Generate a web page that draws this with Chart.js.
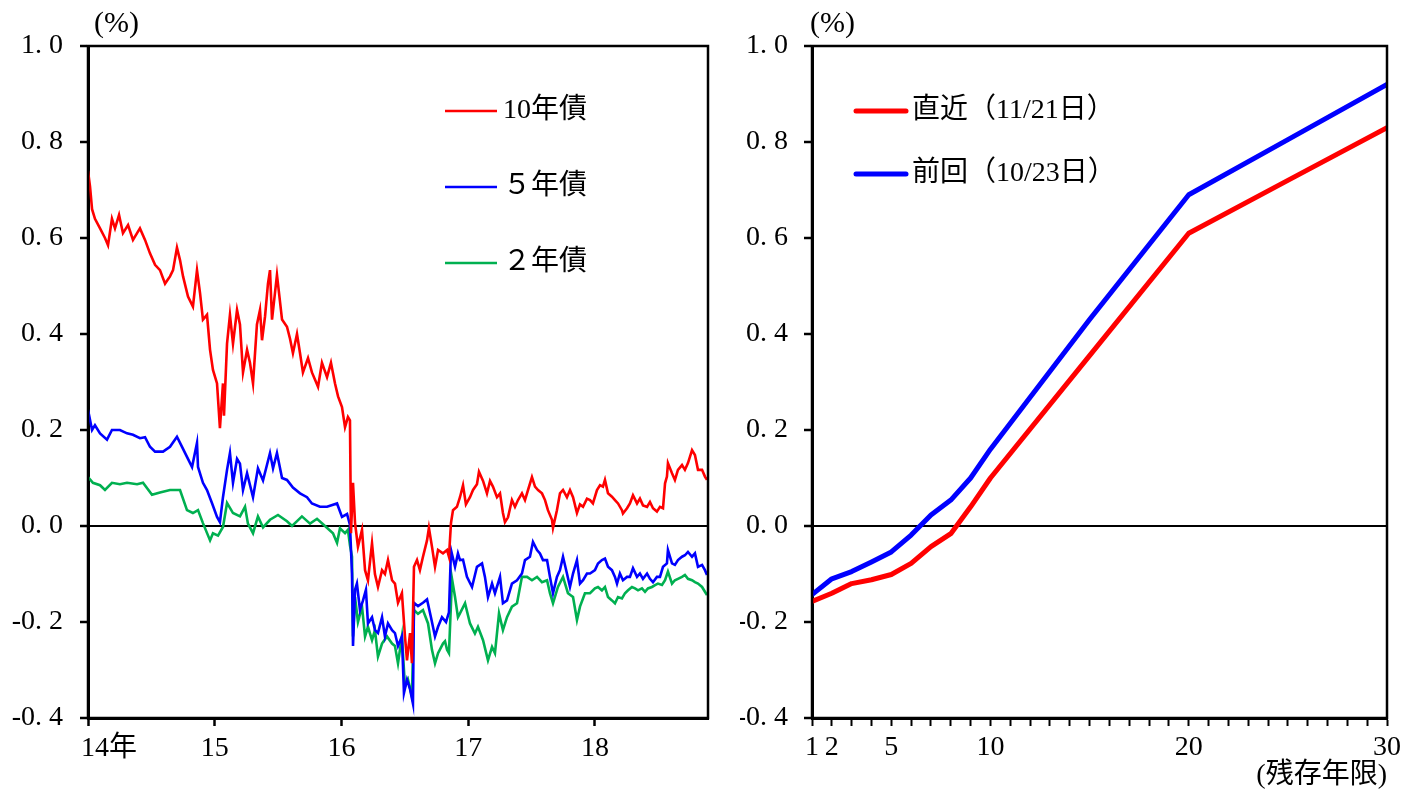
<!DOCTYPE html>
<html><head><meta charset="utf-8">
<script src="https://cdn.jsdelivr.net/npm/chart.js@4.4.0/dist/chart.umd.min.js"></script>
<style>
html,body{margin:0;padding:0;background:#fff;width:1419px;height:792px;overflow:hidden}
#left{position:absolute;left:0;top:0}
#right{position:absolute;left:740px;top:0}
</style></head>
<body>
<canvas id="left" width="740" height="792"></canvas>
<canvas id="right" width="679" height="792"></canvas>
<script>
// ---------- data: left panel (year, % yield) ----------
const seriesNamesLeft = ["10年債", "５年債", "２年債"];
const jgb10 = [[14.000,0.74],[14.016,0.707],[14.032,0.66],[14.055,0.64],[14.095,0.62],[14.134,0.60],[14.158,0.585],[14.189,0.64],[14.213,0.62],[14.245,0.648],[14.276,0.61],[14.316,0.627],[14.355,0.596],[14.387,0.61],[14.410,0.62],[14.450,0.596],[14.489,0.568],[14.529,0.544],[14.568,0.533],[14.608,0.505],[14.647,0.52],[14.671,0.533],[14.702,0.58],[14.726,0.554],[14.750,0.52],[14.789,0.478],[14.828,0.457],[14.860,0.533],[14.884,0.485],[14.907,0.43],[14.939,0.44],[14.963,0.367],[14.986,0.325],[15.018,0.297],[15.041,0.204],[15.065,0.297],[15.073,0.23],[15.097,0.38],[15.120,0.44],[15.144,0.38],[15.176,0.45],[15.199,0.42],[15.223,0.32],[15.255,0.367],[15.278,0.34],[15.302,0.297],[15.333,0.42],[15.357,0.45],[15.373,0.387],[15.397,0.437],[15.420,0.505],[15.436,0.533],[15.452,0.43],[15.491,0.523],[15.531,0.43],[15.570,0.415],[15.594,0.39],[15.617,0.36],[15.649,0.40],[15.673,0.36],[15.696,0.32],[15.736,0.35],[15.767,0.32],[15.815,0.29],[15.846,0.34],[15.886,0.31],[15.917,0.34],[15.949,0.297],[15.973,0.27],[16.004,0.248],[16.028,0.206],[16.051,0.227],[16.067,0.22],[16.075,-0.015],[16.091,0.09],[16.107,0.006],[16.130,-0.043],[16.162,-0.008],[16.186,-0.092],[16.209,-0.113],[16.241,-0.036],[16.264,-0.10],[16.288,-0.127],[16.320,-0.092],[16.343,-0.10],[16.367,-0.071],[16.399,-0.113],[16.422,-0.12],[16.446,-0.16],[16.477,-0.14],[16.501,-0.23],[16.517,-0.28],[16.541,-0.223],[16.556,-0.286],[16.572,-0.085],[16.596,-0.071],[16.619,-0.092],[16.643,-0.064],[16.675,-0.03],[16.690,-0.004],[16.714,-0.043],[16.738,-0.085],[16.762,-0.05],[16.801,-0.057],[16.833,-0.05],[16.848,-0.064],[16.864,0.006],[16.880,0.033],[16.911,0.04],[16.935,0.06],[16.959,0.085],[16.982,0.045],[17.014,0.06],[17.038,0.075],[17.069,0.087],[17.085,0.113],[17.117,0.094],[17.148,0.068],[17.172,0.094],[17.195,0.082],[17.227,0.06],[17.251,0.068],[17.274,0.027],[17.290,0.008],[17.314,0.018],[17.345,0.054],[17.369,0.04],[17.393,0.054],[17.424,0.068],[17.448,0.054],[17.472,0.075],[17.503,0.102],[17.527,0.082],[17.551,0.075],[17.582,0.068],[17.606,0.054],[17.629,0.033],[17.661,0.013],[17.669,-0.004],[17.700,0.033],[17.724,0.068],[17.748,0.075],[17.779,0.06],[17.803,0.075],[17.827,0.06],[17.858,0.027],[17.882,0.045],[17.906,0.04],[17.937,0.057],[17.961,0.054],[17.984,0.047],[18.016,0.075],[18.040,0.085],[18.063,0.082],[18.079,0.096],[18.103,0.068],[18.134,0.061],[18.158,0.054],[18.182,0.047],[18.213,0.033],[18.221,0.026],[18.253,0.037],[18.276,0.047],[18.300,0.064],[18.332,0.047],[18.355,0.057],[18.379,0.043],[18.411,0.04],[18.434,0.05],[18.458,0.037],[18.489,0.03],[18.513,0.04],[18.537,0.037],[18.553,0.089],[18.568,0.103],[18.576,0.131],[18.608,0.11],[18.631,0.096],[18.655,0.117],[18.687,0.127],[18.710,0.117],[18.734,0.131],[18.766,0.158],[18.789,0.148],[18.813,0.117],[18.845,0.117],[18.868,0.103],[18.884,0.096]];
const jgb5 = [[14.000,0.242],[14.032,0.20],[14.055,0.21],[14.095,0.193],[14.150,0.18],[14.189,0.20],[14.252,0.20],[14.308,0.193],[14.355,0.19],[14.410,0.183],[14.450,0.185],[14.489,0.165],[14.529,0.155],[14.592,0.155],[14.647,0.165],[14.702,0.186],[14.742,0.165],[14.781,0.144],[14.821,0.123],[14.860,0.173],[14.868,0.123],[14.907,0.09],[14.939,0.075],[14.978,0.048],[15.018,0.019],[15.041,0.008],[15.065,0.06],[15.097,0.117],[15.120,0.152],[15.144,0.09],[15.176,0.14],[15.199,0.13],[15.223,0.075],[15.255,0.11],[15.302,0.06],[15.341,0.12],[15.381,0.095],[15.436,0.152],[15.460,0.12],[15.491,0.152],[15.531,0.10],[15.570,0.096],[15.617,0.08],[15.673,0.068],[15.728,0.06],[15.767,0.047],[15.830,0.04],[15.886,0.04],[15.965,0.047],[16.004,0.019],[16.044,0.025],[16.067,0.002],[16.083,-0.10],[16.091,-0.25],[16.107,-0.133],[16.122,-0.12],[16.146,-0.175],[16.170,-0.155],[16.193,-0.133],[16.209,-0.203],[16.241,-0.19],[16.264,-0.217],[16.288,-0.223],[16.320,-0.19],[16.343,-0.23],[16.367,-0.203],[16.399,-0.217],[16.422,-0.223],[16.446,-0.25],[16.477,-0.23],[16.493,-0.348],[16.517,-0.32],[16.541,-0.34],[16.564,-0.37],[16.572,-0.16],[16.604,-0.167],[16.643,-0.16],[16.675,-0.153],[16.706,-0.19],[16.738,-0.23],[16.762,-0.21],[16.793,-0.19],[16.825,-0.20],[16.848,-0.18],[16.864,-0.05],[16.896,-0.085],[16.919,-0.057],[16.935,-0.071],[16.959,-0.07],[16.990,-0.106],[17.030,-0.127],[17.069,-0.085],[17.109,-0.078],[17.132,-0.106],[17.156,-0.148],[17.188,-0.12],[17.211,-0.14],[17.251,-0.106],[17.274,-0.161],[17.306,-0.155],[17.345,-0.12],[17.385,-0.113],[17.424,-0.099],[17.448,-0.071],[17.487,-0.064],[17.511,-0.033],[17.543,-0.05],[17.566,-0.057],[17.590,-0.071],[17.622,-0.071],[17.645,-0.106],[17.669,-0.14],[17.700,-0.106],[17.724,-0.092],[17.748,-0.064],[17.779,-0.099],[17.803,-0.127],[17.827,-0.099],[17.858,-0.071],[17.882,-0.12],[17.906,-0.113],[17.937,-0.099],[17.961,-0.099],[18.000,-0.092],[18.024,-0.078],[18.055,-0.071],[18.079,-0.068],[18.103,-0.085],[18.134,-0.092],[18.158,-0.106],[18.174,-0.12],[18.197,-0.099],[18.221,-0.113],[18.253,-0.106],[18.276,-0.106],[18.300,-0.088],[18.332,-0.106],[18.355,-0.099],[18.379,-0.11],[18.411,-0.099],[18.434,-0.11],[18.458,-0.117],[18.489,-0.106],[18.513,-0.106],[18.537,-0.085],[18.568,-0.078],[18.576,-0.05],[18.608,-0.078],[18.631,-0.081],[18.655,-0.071],[18.687,-0.064],[18.710,-0.061],[18.734,-0.054],[18.766,-0.064],[18.789,-0.057],[18.813,-0.085],[18.845,-0.081],[18.868,-0.092],[18.884,-0.102]];
const jgb2 = [[14.000,0.102],[14.039,0.09],[14.095,0.085],[14.134,0.075],[14.189,0.09],[14.252,0.087],[14.308,0.09],[14.387,0.087],[14.434,0.09],[14.505,0.065],[14.568,0.07],[14.647,0.075],[14.726,0.075],[14.781,0.033],[14.828,0.027],[14.868,0.033],[14.907,0.006],[14.963,-0.03],[14.986,-0.015],[15.026,-0.02],[15.065,-0.002],[15.097,0.048],[15.144,0.027],[15.199,0.02],[15.239,0.04],[15.262,0.005],[15.302,-0.015],[15.341,0.02],[15.381,-0.003],[15.436,0.013],[15.499,0.023],[15.570,0.01],[15.610,0.0],[15.688,0.02],[15.752,0.005],[15.807,0.015],[15.870,0.0],[15.933,-0.015],[15.965,-0.035],[15.988,-0.005],[16.028,-0.015],[16.051,-0.008],[16.067,-0.04],[16.083,-0.064],[16.091,-0.23],[16.107,-0.148],[16.130,-0.20],[16.162,-0.168],[16.186,-0.23],[16.209,-0.21],[16.241,-0.238],[16.264,-0.217],[16.288,-0.272],[16.320,-0.245],[16.359,-0.23],[16.399,-0.245],[16.422,-0.25],[16.446,-0.286],[16.477,-0.23],[16.501,-0.335],[16.525,-0.32],[16.556,-0.355],[16.572,-0.175],[16.604,-0.183],[16.643,-0.175],[16.683,-0.203],[16.714,-0.258],[16.738,-0.286],[16.762,-0.265],[16.801,-0.245],[16.817,-0.24],[16.833,-0.258],[16.848,-0.265],[16.872,-0.11],[16.896,-0.148],[16.919,-0.19],[16.935,-0.182],[16.975,-0.161],[17.014,-0.203],[17.053,-0.224],[17.077,-0.21],[17.117,-0.238],[17.156,-0.28],[17.188,-0.252],[17.211,-0.265],[17.243,-0.182],[17.274,-0.217],[17.306,-0.19],[17.345,-0.168],[17.385,-0.161],[17.424,-0.106],[17.464,-0.106],[17.503,-0.113],[17.543,-0.106],[17.582,-0.117],[17.622,-0.113],[17.645,-0.14],[17.669,-0.161],[17.708,-0.127],[17.748,-0.106],[17.787,-0.14],[17.827,-0.148],[17.858,-0.196],[17.882,-0.168],[17.921,-0.14],[17.961,-0.14],[18.000,-0.13],[18.024,-0.127],[18.055,-0.134],[18.079,-0.127],[18.103,-0.148],[18.134,-0.155],[18.158,-0.161],[18.182,-0.148],[18.213,-0.151],[18.237,-0.14],[18.261,-0.134],[18.292,-0.127],[18.316,-0.13],[18.340,-0.134],[18.371,-0.13],[18.395,-0.137],[18.418,-0.13],[18.450,-0.127],[18.474,-0.123],[18.497,-0.12],[18.529,-0.123],[18.553,-0.113],[18.576,-0.095],[18.608,-0.12],[18.631,-0.113],[18.655,-0.11],[18.687,-0.106],[18.710,-0.102],[18.734,-0.11],[18.766,-0.113],[18.789,-0.117],[18.813,-0.12],[18.845,-0.127],[18.868,-0.137],[18.884,-0.144]];
const leftYearTicks = [14, 15, 16, 17, 18];
const leftXMin = 14, leftXMax = 18.892;

// ---------- data: right panel (yield curve) ----------
const seriesNamesRight = ["直近（11/21日）", "前回（10/23日）"];
const maturities = [1, 2, 3, 4, 5, 6, 7, 8, 9, 10, 15, 20, 25, 30];
const curveLatest = [-0.157, -0.14, -0.12, -0.112, -0.101, -0.078, -0.043, -0.016, 0.04, 0.10, 0.355, 0.61, 0.72, 0.83];
const curvePrev   = [-0.143, -0.11, -0.095, -0.075, -0.054, -0.019, 0.023, 0.054, 0.10, 0.16, 0.43, 0.69, 0.805, 0.92];
const rightXLabelTicks = [1, 2, 5, 10, 20, 30];
const rightXMin = 1, rightXMax = 30;

// ---------- shared y ticks ----------
const yTicks = [-0.4, -0.2, 0.0, 0.2, 0.4, 0.6, 0.8, 1.0];
const yMin = -0.4, yMax = 1.0;

const FONT = "'Liberation Serif','Noto Sans CJK JP',serif";
const FS = 28;
const RED = '#ff0000', BLUE = '#0000ff', GREEN = '#00b050';

const fmtY = v => (v < 0 ? '-' : '') + Math.abs(v).toFixed(1).replace('.', '. ');

const framePlugin = {
  id: 'frame',
  afterDraw(chart) {
    const {ctx, chartArea: a} = chart;
    ctx.save();
    ctx.strokeStyle = '#000'; ctx.lineWidth = 2.5;
    ctx.strokeRect(a.left, a.top, a.right - a.left, a.bottom - a.top);
    ctx.restore();
  }
};
const unitPlugin = {
  id: 'unitLabel',
  afterDraw(chart, args, opts) {
    const {ctx} = chart;
    ctx.save();
    ctx.font = '30px ' + FONT; ctx.fillStyle = '#000';
    ctx.textBaseline = 'middle'; ctx.textAlign = 'left';
    ctx.fillText(opts.text, opts.x, opts.y);
    ctx.restore();
  }
};
const legendPlugin = {
  id: 'lineLegend',
  afterDraw(chart, args, opts) {
    const {ctx} = chart;
    ctx.save();
    ctx.font = FS + 'px ' + FONT; ctx.textBaseline = 'middle'; ctx.textAlign = 'left';
    chart.data.datasets.forEach((ds, i) => {
      const y = opts.y0 + i * opts.dy;
      ctx.strokeStyle = ds.borderColor; ctx.lineWidth = opts.lineWidth; ctx.lineCap = opts.cap;
      ctx.beginPath(); ctx.moveTo(opts.x, y); ctx.lineTo(opts.x + opts.len, y); ctx.stroke();
      ctx.fillStyle = '#000';
      ctx.fillText(ds.label, opts.x + opts.len + opts.gap, y);
    });
    ctx.restore();
  }
};

function yScale(width, pad) {
  return {
    type: 'linear', position: 'left', min: yMin, max: yMax,
    afterBuildTicks: s => { s.ticks = yTicks.map(v => ({value: v})); },
    afterFit: s => { s.width = width; },
    ticks: {callback: v => fmtY(v), font: {family: FONT, size: FS}, color: '#000', padding: pad},
    grid: {
      drawOnChartArea: true, drawTicks: true, tickLength: 8, tickWidth: 2.5, tickColor: '#000',
      color: c => (c.tick && Math.abs(c.tick.value) < 1e-9) ? '#000' : 'rgba(0,0,0,0)',
      lineWidth: 2
    },
    border: {display: true, color: '#000', width: 3}
  };
}

Chart.defaults.font.family = FONT;

new Chart(document.getElementById('left'), {
  type: 'line',
  data: {
    datasets: [
      {label: seriesNamesLeft[0], data: jgb10.map(([x, y]) => ({x, y})), borderColor: RED},
      {label: seriesNamesLeft[1], data: jgb5.map(([x, y]) => ({x, y})), borderColor: BLUE},
      {label: seriesNamesLeft[2], data: jgb2.map(([x, y]) => ({x, y})), borderColor: GREEN}
    ].map(d => Object.assign(d, {borderWidth: 2.6, pointRadius: 0, tension: 0, fill: false}))
  },
  options: {
    responsive: false, animation: false, devicePixelRatio: 1,
    layout: {padding: {left: 0, top: 46, right: 32, bottom: 0}},
    plugins: {
      legend: {display: false}, tooltip: {enabled: false},
      unitLabel: {text: '(%)', x: 94, y: 24},
      lineLegend: {x: 445, y0: 111, dy: 76, len: 52, gap: 6, lineWidth: 2.5, cap: 'butt'}
    },
    scales: {
      x: {
        type: 'linear', position: 'bottom', min: leftXMin, max: leftXMax,
        afterBuildTicks: s => { s.ticks = leftYearTicks.map(v => ({value: v})); },
        afterFit: s => { s.height = 74; },
        ticks: {
          callback: v => v === leftYearTicks[0] ? '\u2002\u2002\u2002' + v + '年' : String(v),
          font: {family: FONT, size: FS}, color: '#000', padding: 6, maxRotation: 0, autoSkip: false
        },
        grid: {drawOnChartArea: false, drawTicks: true, tickLength: 8, tickWidth: 2.5, tickColor: '#000'},
        border: {display: true, color: '#000', width: 3}
      },
      y: yScale(88, 17)
    }
  },
  plugins: [framePlugin, unitPlugin, legendPlugin]
});

new Chart(document.getElementById('right'), {
  type: 'line',
  data: {
    datasets: [
      {label: seriesNamesRight[0], data: maturities.map((m, i) => ({x: m, y: curveLatest[i]})), borderColor: RED},
      {label: seriesNamesRight[1], data: maturities.map((m, i) => ({x: m, y: curvePrev[i]})), borderColor: BLUE}
    ].map(d => Object.assign(d, {borderWidth: 5, pointRadius: 0, tension: 0, fill: false, borderJoinStyle: 'round', borderCapStyle: 'round'}))
  },
  options: {
    responsive: false, animation: false, devicePixelRatio: 1,
    layout: {padding: {left: 0, top: 46, right: 32, bottom: 0}},
    plugins: {
      legend: {display: false}, tooltip: {enabled: false},
      unitLabel: {text: '(%)', x: 70, y: 24},
      lineLegend: {x: 116, y0: 111, dy: 63, len: 50, gap: 6, lineWidth: 5, cap: 'round'}
    },
    scales: {
      x: {
        type: 'linear', position: 'bottom', min: rightXMin, max: rightXMax,
        afterBuildTicks: s => {
          const t = [];
          for (let v = rightXMin; v <= rightXMax; v++) t.push({value: v});
          s.ticks = t;
        },
        afterFit: s => { s.height = 74; },
        ticks: {
          callback: v => rightXLabelTicks.includes(v) ? String(v) : '',
          font: {family: FONT, size: FS}, color: '#000', padding: 5, maxRotation: 0, autoSkip: false
        },
        title: {display: true, text: '(残存年限)', align: 'end', color: '#000',
                font: {family: FONT, size: FS}, padding: {top: 0, bottom: 0}},
        grid: {drawOnChartArea: false, drawTicks: true, tickLength: 8, tickWidth: 2, tickColor: '#000'},
        border: {display: true, color: '#000', width: 3}
      },
      y: yScale(72, 16)
    }
  },
  plugins: [framePlugin, unitPlugin, legendPlugin]
});
</script>
</body></html>
